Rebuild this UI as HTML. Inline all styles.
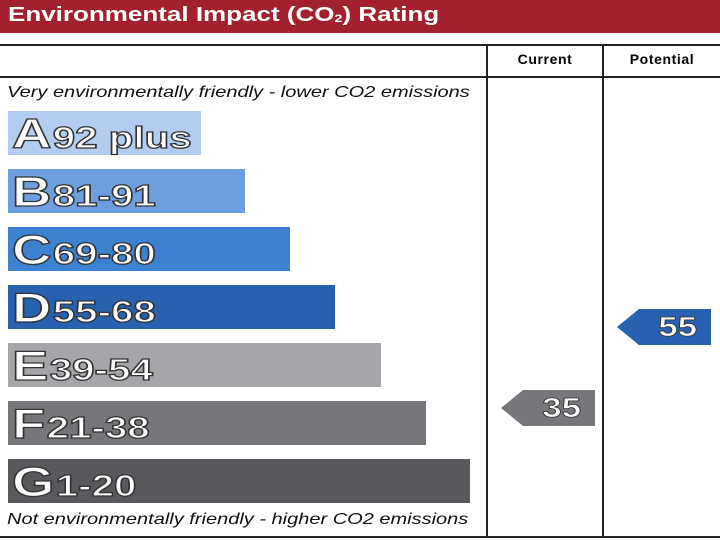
<!DOCTYPE html><html><head><style>
body{margin:0;width:720px;height:540px;background:#fff;position:relative;overflow:hidden;font-family:"Liberation Sans",Arial,sans-serif}
.hdr{position:absolute;left:0;top:0;width:720px;height:33px;background:#a3202e}
.hdr div{position:absolute;left:8px;top:0;color:#fff;font-weight:bold;font-size:20px;line-height:31px;transform:scaleX(1.3);transform-origin:0 0;white-space:nowrap}
.hdr sub{font-size:11px;vertical-align:-1px}
.ln{position:absolute;background:#222}
.bar{position:absolute;left:8px;height:44px}
.bar span{position:absolute;left:4px;top:1px;font-weight:bold;color:#fff;-webkit-text-stroke:1.3px #333;font-size:42px;line-height:44px;transform:scaleX(1.3);transform-origin:0 0;white-space:nowrap}
.bar span i{font-style:normal;font-size:31px;vertical-align:0px;margin-left:1px}
.it{position:absolute;left:7px;font-style:italic;font-size:16px;color:#111;transform:scaleX(1.25);transform-origin:0 0;white-space:nowrap}
.th{position:absolute;top:44px;height:33px;line-height:31px;text-align:center;font-weight:bold;font-size:14px;letter-spacing:0.6px}
.ar{position:absolute}
.ar b{position:absolute;right:14px;top:0;color:#fff;-webkit-text-stroke:0.8px #333;font-size:28px;line-height:36px;transform:scaleX(1.25);transform-origin:100% 0}
</style></head><body>
<div class="hdr"><div>Environmental Impact (CO<sub>2</sub>) Rating</div></div>
<div class="ln" style="left:0;top:44px;width:720px;height:2px"></div>
<div class="ln" style="left:0;top:76px;width:720px;height:2px"></div>
<div class="ln" style="left:0;top:536px;width:720px;height:2px"></div>
<div class="ln" style="left:486px;top:44px;width:2px;height:494px"></div>
<div class="ln" style="left:602px;top:44px;width:2px;height:494px"></div>
<div class="th" style="left:488px;width:114px">Current</div>
<div class="th" style="left:604px;width:116px">Potential</div>
<div class="it" style="top:84px">Very environmentally friendly - lower CO2 emissions</div>
<div class="it" style="top:511px">Not environmentally friendly - higher CO2 emissions</div>
<div class="bar" style="top:111px;width:193px;background:#b3cdf0"><span>A<i>92 plus</i></span></div>
<div class="bar" style="top:169px;width:237px;background:#6d9ee0"><span>B<i>81-91</i></span></div>
<div class="bar" style="top:227px;width:282px;background:#3d82d0"><span>C<i>69-80</i></span></div>
<div class="bar" style="top:285px;width:327px;background:#2761b0"><span>D<i>55-68</i></span></div>
<div class="bar" style="top:343px;width:373px;background:#a4a6aa"><span>E<i>39-54</i></span></div>
<div class="bar" style="top:401px;width:418px;background:#75777b"><span>F<i>21-38</i></span></div>
<div class="bar" style="top:459px;width:462px;background:#58595d"><span>G<i>1-20</i></span></div>
<div class="ar" style="left:501px;top:390px;width:94px;height:36px">
<svg width="94" height="36" style="position:absolute;left:0;top:0"><polygon points="0,18 22,0 94,0 94,36 22,36" fill="#75777b"/></svg><b>35</b></div>
<div class="ar" style="left:617px;top:309px;width:94px;height:36px">
<svg width="94" height="36" style="position:absolute;left:0;top:0"><polygon points="0,18 22,0 94,0 94,36 22,36" fill="#2761b0"/></svg><b>55</b></div>
</body></html>
